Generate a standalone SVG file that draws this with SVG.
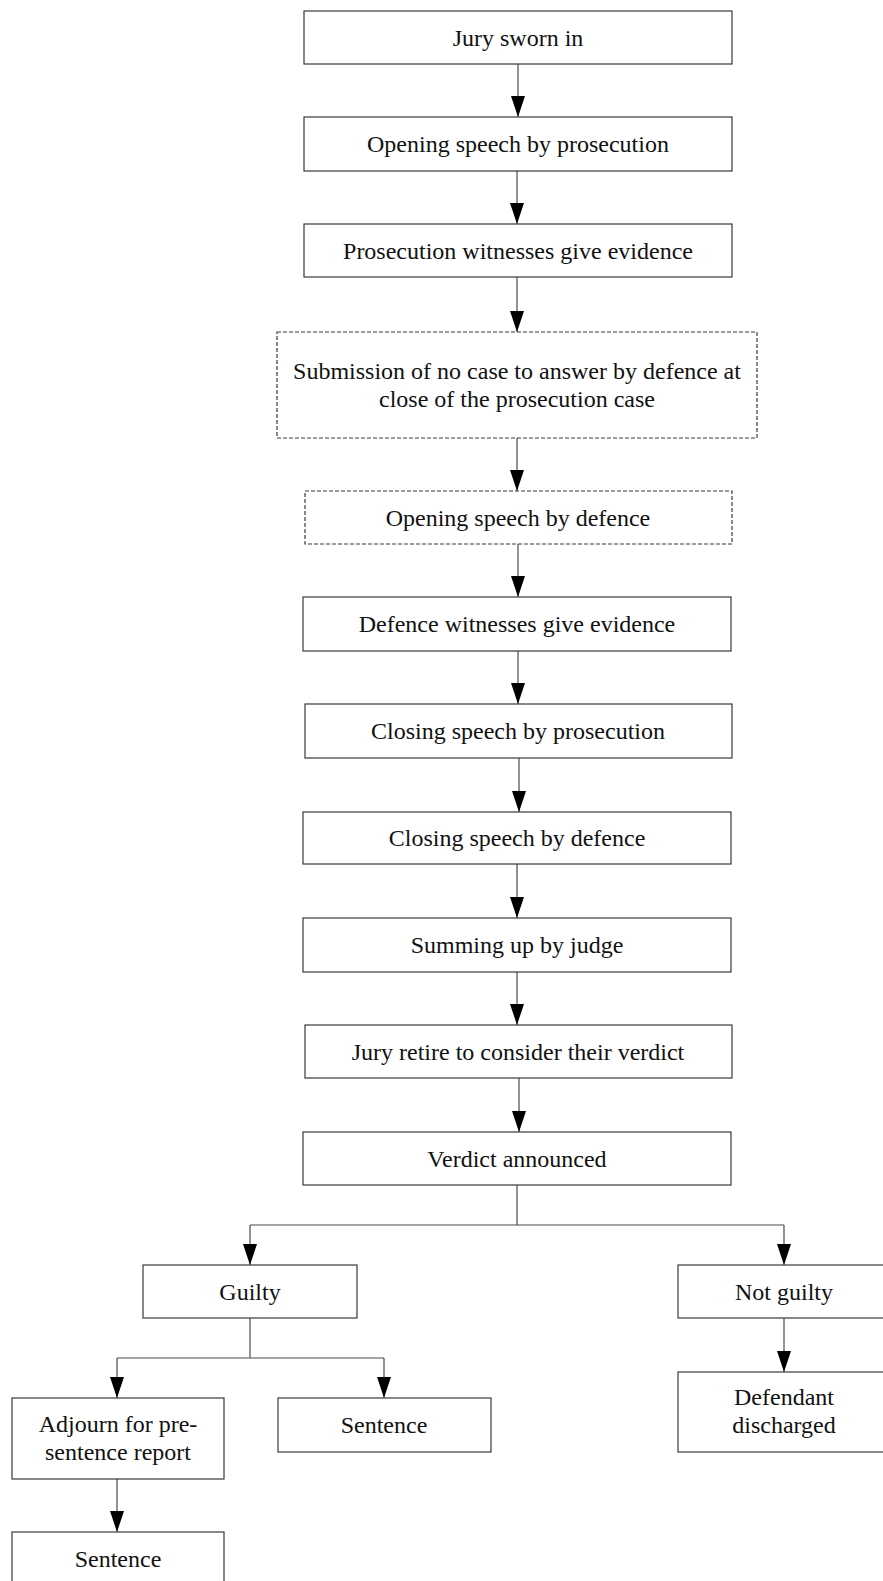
<svg xmlns="http://www.w3.org/2000/svg" width="883" height="1581" viewBox="0 0 883 1581">
  <defs>
    <style>
      .box { fill: #ffffff; stroke: #3a3a3a; stroke-width: 1.2; }
      .opt { stroke-dasharray: 4 2; }
      .lbl { font-family: "Liberation Serif", "Times New Roman", serif; font-size: 24px; fill: #111111; text-anchor: middle; }
      .wire { fill: none; stroke: #4a4a4a; stroke-width: 1.2; }
      .arr { marker-end: url(#head); }
    </style>
    <marker id="head" markerUnits="userSpaceOnUse" markerWidth="21" markerHeight="14" refX="21" refY="7" orient="auto">
      <path d="M0,0 L21,7 L0,14 z" fill="#000000"/>
    </marker>
  </defs>
  <rect width="883" height="1581" fill="#ffffff"/>

  <!-- connectors -->
  <g id="connectors">
    <path class="wire arr" d="M518,64 V117"/>
    <path class="wire arr" d="M517,171 V224"/>
    <path class="wire arr" d="M517,277 V332"/>
    <path class="wire arr" d="M517,438 V491"/>
    <path class="wire arr" d="M518,544 V597"/>
    <path class="wire arr" d="M518,651 V704"/>
    <path class="wire arr" d="M519,758 V812"/>
    <path class="wire arr" d="M517,864 V918"/>
    <path class="wire arr" d="M517,972 V1025"/>
    <path class="wire arr" d="M519,1078 V1132"/>
    <!-- verdict split -->
    <path class="wire" d="M517,1185 V1225"/>
    <path class="wire" d="M250,1225 H784"/>
    <path class="wire arr" d="M250,1225 V1265"/>
    <path class="wire arr" d="M784,1225 V1265"/>
    <!-- guilty split -->
    <path class="wire" d="M250,1318 V1358"/>
    <path class="wire" d="M117,1358 H384"/>
    <path class="wire arr" d="M117,1358 V1398"/>
    <path class="wire arr" d="M384,1358 V1398"/>
    <path class="wire arr" d="M117,1479 V1532"/>
    <!-- not guilty -->
    <path class="wire arr" d="M784,1318 V1372"/>
  </g>

  <!-- main sequence -->
  <g id="jury-sworn">
    <rect class="box" x="304" y="11" width="428" height="53"/>
    <text class="lbl" x="518" y="45.5">Jury sworn in</text>
  </g>
  <g id="opening-prosecution">
    <rect class="box" x="304" y="117" width="428" height="54"/>
    <text class="lbl" x="518" y="152">Opening speech by prosecution</text>
  </g>
  <g id="prosecution-witnesses">
    <rect class="box" x="304" y="224" width="428" height="53"/>
    <text class="lbl" x="518" y="258.5">Prosecution witnesses give evidence</text>
  </g>
  <g id="no-case-submission">
    <rect class="box opt" x="277" y="332" width="480" height="106"/>
    <text class="lbl" x="517" y="379">Submission of no case to answer by defence at</text>
    <text class="lbl" x="517" y="407">close of the prosecution case</text>
  </g>
  <g id="opening-defence">
    <rect class="box opt" x="305" y="491" width="427" height="53"/>
    <text class="lbl" x="518" y="525.5">Opening speech by defence</text>
  </g>
  <g id="defence-witnesses">
    <rect class="box" x="303" y="597" width="428" height="54"/>
    <text class="lbl" x="517" y="632">Defence witnesses give evidence</text>
  </g>
  <g id="closing-prosecution">
    <rect class="box" x="305" y="704" width="427" height="54"/>
    <text class="lbl" x="518" y="739">Closing speech by prosecution</text>
  </g>
  <g id="closing-defence">
    <rect class="box" x="303" y="812" width="428" height="52"/>
    <text class="lbl" x="517" y="846">Closing speech by defence</text>
  </g>
  <g id="summing-up">
    <rect class="box" x="303" y="918" width="428" height="54"/>
    <text class="lbl" x="517" y="953">Summing up by judge</text>
  </g>
  <g id="jury-retire">
    <rect class="box" x="305" y="1025" width="427" height="53"/>
    <text class="lbl" x="518" y="1059.5">Jury retire to consider their verdict</text>
  </g>
  <g id="verdict">
    <rect class="box" x="303" y="1132" width="428" height="53"/>
    <text class="lbl" x="517" y="1166.5">Verdict announced</text>
  </g>

  <!-- outcomes -->
  <g id="guilty">
    <rect class="box" x="143" y="1265" width="214" height="53"/>
    <text class="lbl" x="250" y="1299.5">Guilty</text>
  </g>
  <g id="not-guilty">
    <rect class="box" x="678" y="1265" width="213" height="53"/>
    <text class="lbl" x="784" y="1299.5">Not guilty</text>
  </g>
  <g id="adjourn">
    <rect class="box" x="12" y="1398" width="212" height="81"/>
    <text class="lbl" x="118" y="1432">Adjourn for pre-</text>
    <text class="lbl" x="118" y="1460">sentence report</text>
  </g>
  <g id="sentence-now">
    <rect class="box" x="278" y="1398" width="213" height="54"/>
    <text class="lbl" x="384" y="1433">Sentence</text>
  </g>
  <g id="discharged">
    <rect class="box" x="678" y="1372" width="213" height="80"/>
    <text class="lbl" x="784" y="1405">Defendant</text>
    <text class="lbl" x="784" y="1433">discharged</text>
  </g>
  <g id="sentence-later">
    <rect class="box" x="12" y="1532" width="212" height="54"/>
    <text class="lbl" x="118" y="1567">Sentence</text>
  </g>
</svg>
